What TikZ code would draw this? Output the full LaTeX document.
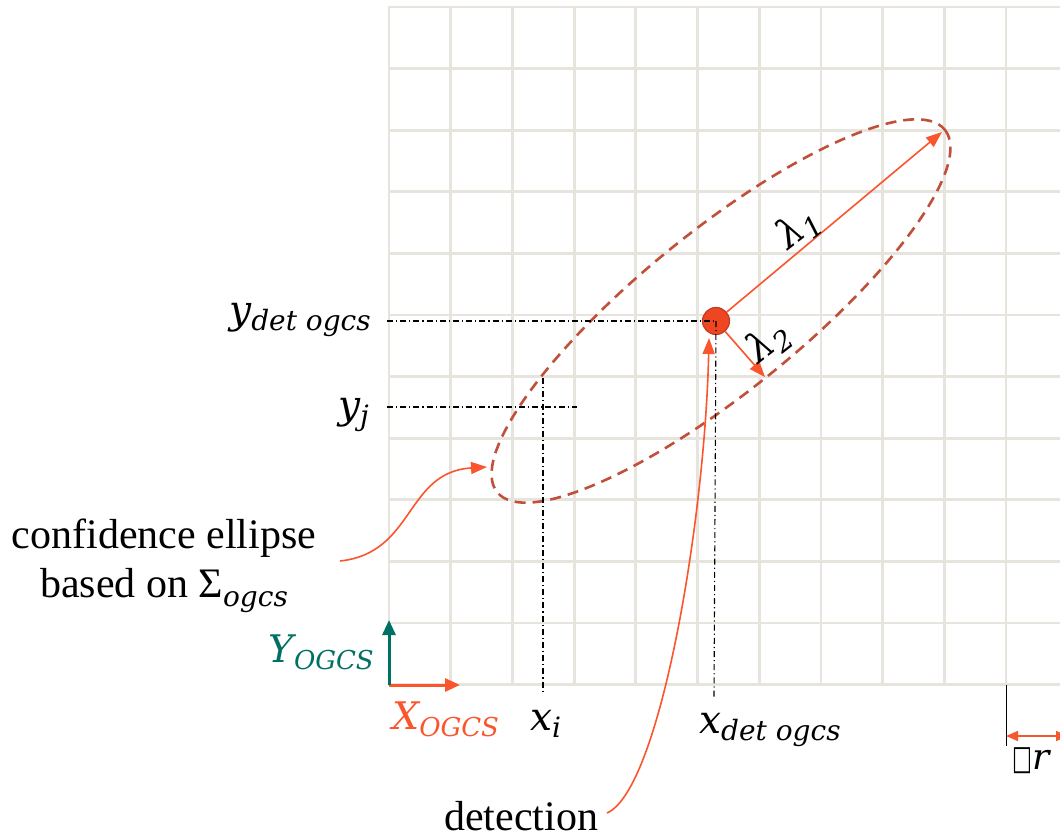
\documentclass[tikz,border=0pt]{standalone}
\usepackage{fontspec}
\usepackage{graphicx}
\setmainfont{Liberation Serif}
\newfontfamily\lf{DejaVu Serif}
\newfontfamily\symf{DejaVu Sans}
\usetikzlibrary{arrows.meta}
\definecolor{gridc}{RGB}{231,227,221}
\definecolor{ellc}{RGB}{192,80,58}
\definecolor{arrc}{RGB}{250,85,45}
\definecolor{tealc}{RGB}{0,112,100}
\definecolor{detfill}{RGB}{238,70,32}
\definecolor{detdraw}{RGB}{190,60,40}
\newcommand\mlab[2]{{\lf\itshape\fontsize{39}{39}\selectfont #1\raisebox{-7pt}{\fontsize{28}{28}\selectfont #2}}}
\newcommand\mlabs[2]{{\lf\itshape\fontsize{38}{38}\selectfont #1\raisebox{-7pt}{\fontsize{26}{26}\selectfont #2}}}
\begin{document}
\begin{tikzpicture}[x=1pt,y=-1pt,
 gridline/.style={draw=gridc,line width=2.8pt,line cap=rect},
 ell/.style={draw=ellc,line width=2.6pt,dash pattern=on 11pt off 7pt},
 thinarrow/.style={draw=arrc,line width=1.6pt,-{Triangle[length=16pt,width=12pt,fill=arrc]}},
 axisarrow/.style={line width=3pt,-{Triangle[length=15pt,width=13pt]}},
 dashdot/.style={draw=black,line width=1.1pt,dash pattern=on 6pt off 3pt on 1.2pt off 3pt},
 lab/.style={inner sep=0pt},
 txt/.style={inner sep=0pt,font=\fontsize{42}{48}\selectfont}
]
\useasboundingbox (0,0) rectangle (1060,840);
\fill[white] (0,0) rectangle (1060,840);
\begin{scope}
\clip (0,0) rectangle (1060,840);
% grid
\foreach \i in {0,...,11} \draw[gridline] ({389+61.7*\i},7) -- ({389+61.7*\i},685);
\foreach \j in {0,...,11} \draw[gridline] (389,{7+61.6*\j}) -- (1070,{7+61.6*\j});
% ellipse
\draw[ell, rotate around={39:(721,311)}] (721,311) ellipse [x radius=288, y radius=80];
% detection point
\node[circle, fill=detfill, draw=detdraw, line width=1.2pt, minimum size=27pt, inner sep=0pt] (det) at (716,321) {};
% dash-dot guide lines
\coordinate (yd0) at (387,321);
\coordinate (xd1) at (714,697);
\coordinate (yj0) at (387,407);
\coordinate (yj1) at (577,407);
\coordinate (xi0) at (543,378);
\coordinate (xi1) at (543,692);
\draw[dashdot] (yd0) -- (det.center);
\draw[dashdot] (det.center) -- (xd1);
\draw[dashdot] (yj0) -- (yj1);
\draw[dashdot] (xi0) -- (xi1);
% eigen arrows
\coordinate (t1) at (942,132);
\coordinate (t2) at (765,377);
\draw[thinarrow] (det) -- (t1);
\draw[thinarrow] (det) -- (t2);
\node[lab, rotate=38] (l1) at (798,228) {\mlab{λ}{1}};
\node[lab, rotate=38] (l2) at (768,342) {\mlab{λ}{2}};
% axes
\coordinate (O) at (389,685);
\coordinate (xe) at (460,685);
\coordinate (ye) at (389,620);
\draw[axisarrow, draw=arrc, fill=arrc] (O) -- (xe);
\draw[axisarrow, draw=tealc, fill=tealc] (O) -- (ye);
% labels
\node[lab, anchor=base east, text=tealc] (ylab) at (374,662) {\mlabs{Y}{OGCS}};
\node[lab, anchor=base west, text=arrc] (xlab) at (392,729) {\mlabs{X}{OGCS}};
\node[lab, anchor=base east] (ydet) at (371,323) {\mlab{y}{det ogcs}};
\node[lab, anchor=base east] (yj) at (369,418) {\mlab{y}{j}};
\node[lab, anchor=base west] (xi) at (530,730) {\mlab{x}{i}};
\node[lab, anchor=base west] (xdet) at (699,733) {\mlab{x}{det ogcs}};
% text annotations
\node[txt, anchor=base] (conf1) at (164,548) {confidence ellipse};
\node[txt, anchor=base] (conf2) at (164,597) {based on Σ\raisebox{-9pt}{\lf\itshape\fontsize{28}{28}\selectfont ogcs}};
\node[txt, anchor=base] (detl) at (521,830) {detection};
\coordinate (c1) at (340,561);
\coordinate (c1e) at (487,467);
\draw[thinarrow] (c1) .. controls (415,553) and (405,472) .. (c1e);
\coordinate (d0) at (607,813);
\coordinate (d1) at (709,338);
\draw[thinarrow] (d0) .. controls (660,790) and (705,520) .. (d1);
% delta r
\coordinate (r0) at (1006,685);
\coordinate (r1) at (1006,746);
\coordinate (ra) at (1006,736);
\coordinate (rb) at (1068,736);
\draw[black, line width=1pt] (r0) -- (r1);
\draw[draw=arrc, line width=1.5pt, {Triangle[length=12pt,width=10pt,fill=arrc]}-{Triangle[length=12pt,width=10pt,fill=arrc]}] (ra) -- (rb);
\node[lab, anchor=base west] (dr) at (1012,769) {{\symf\fontsize{34}{34}\selectfont\scalebox{0.62}[1]{□}}{\lf\itshape\fontsize{36}{36}\selectfont r}};
\end{scope}
\end{tikzpicture}
\end{document}
